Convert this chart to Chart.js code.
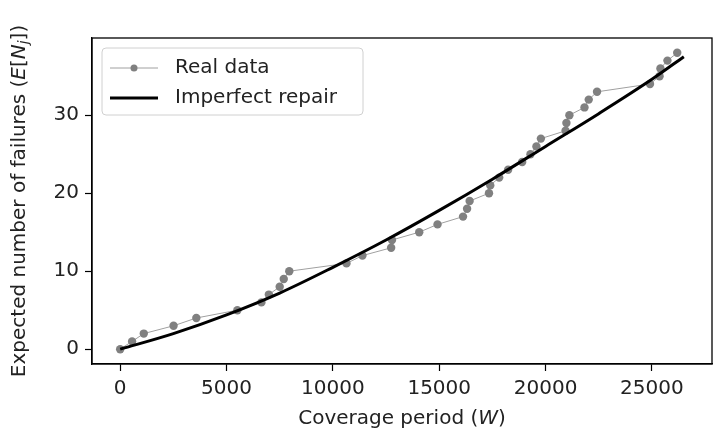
<!DOCTYPE html>
<html>
<head>
<meta charset="utf-8">
<script src="https://cdn.jsdelivr.net/npm/chart.js@4/dist/chart.umd.min.js"></script>
<style>
  html, body { margin: 0; padding: 0; background: #fff; }
  #wrap { width: 718px; height: 437px; }
</style>
</head>
<body>
<div id="wrap"><canvas id="myChart" width="718" height="437"></canvas></div>
<script>
// cumulative failures
const realW = [0, 560, 1110, 2510, 3580, 5510, 6640, 6990, 7500, 7690, 7950, 10640, 11390,
    12740, 12780, 14060, 14920, 16120, 16310, 16430, 17340, 17400, 17820, 18240, 18900,
    19290, 19570, 19780, 20940, 20980, 21120, 21830, 22030, 22420, 24910, 25360, 25400,
    25730, 26190];
const realN = [0, 1, 2, 3, 4, 5, 6, 7, 8, 9, 10, 11, 12, 13, 14, 15, 16, 17, 18, 19, 20,
    21, 22, 23, 24, 25, 26, 27, 28, 29, 30, 31, 32, 33, 34, 35, 36, 37, 38];

// fitted imperfect repair curve
const fitW = [0, 2500, 5000, 7500, 10000, 12500, 15000, 17500, 20000, 22500, 25000, 26500];
const fitN = [0, 2.0, 4.4, 7.2, 10.5, 14.0, 17.8, 21.8, 26.0, 30.2, 34.6, 37.5];

const xTicks = [0, 5000, 10000, 15000, 20000, 25000];
const yTicks = [0, 10, 20, 30];

Chart.defaults.font.family = "'DejaVu Sans', sans-serif";
Chart.defaults.color = '#222';

const FONT = 20;

// matplotlib style full box round the plot area
const framePlugin = {
    id: 'frame',
    afterDatasetsDraw(chart) {
        const a = chart.chartArea;
        const ctx = chart.ctx;
        ctx.save();
        ctx.strokeStyle = '#000';
        ctx.lineWidth = 1.3;
        ctx.strokeRect(a.left, a.top, a.right - a.left, a.bottom - a.top);
        ctx.restore();
    }
};

// draw a run of text pieces, some italic / subscript
function drawPieces(ctx, pieces, x, y) {
    let total = 0;
    pieces.forEach(p => {
        ctx.font = (p.italic ? 'italic ' : '') + (p.size || FONT) + "px 'DejaVu Sans'";
        p.w = ctx.measureText(p.t).width;
        total += p.w;
    });
    let cx = x - total / 2;
    pieces.forEach(p => {
        ctx.font = (p.italic ? 'italic ' : '') + (p.size || FONT) + "px 'DejaVu Sans'";
        ctx.fillText(p.t, cx, y + (p.dy || 0));
        cx += p.w;
    });
}

const titlesPlugin = {
    id: 'titles',
    afterDraw(chart) {
        const a = chart.chartArea;
        const ctx = chart.ctx;
        ctx.save();
        ctx.fillStyle = '#222';
        ctx.textBaseline = 'middle';
        ctx.textAlign = 'left';
        drawPieces(ctx, [
            { t: 'Coverage period (' },
            { t: 'W', italic: true },
            { t: ')' }
        ], (a.left + a.right) / 2, 419);

        ctx.translate(20, (a.top + a.bottom) / 2);
        ctx.rotate(-Math.PI / 2);
        drawPieces(ctx, [
            { t: 'Expected number of failures (' },
            { t: 'E', italic: true },
            { t: '[' },
            { t: 'N', italic: true },
            { t: 'j', italic: true, size: 14, dy: 4 },
            { t: '])' }
        ], 0, 0);
        ctx.restore();
    }
};

const legendPlugin = {
    id: 'boxLegend',
    afterDraw(chart) {
        const a = chart.chartArea;
        const ctx = chart.ctx;
        const x0 = a.left + 10, y0 = a.top + 10, w = 261, h = 67, r = 4;
        ctx.save();
        ctx.beginPath();
        ctx.roundRect(x0, y0, w, h, r);
        ctx.fillStyle = 'rgba(255,255,255,0.85)';
        ctx.fill();
        ctx.strokeStyle = '#d0d0d0';
        ctx.lineWidth = 1;
        ctx.stroke();

        const ds = chart.data.datasets;
        const rows = [y0 + 20, y0 + 50];
        ds.forEach((d, i) => {
            const yy = rows[i];
            ctx.beginPath();
            ctx.moveTo(x0 + 8, yy);
            ctx.lineTo(x0 + 56, yy);
            ctx.strokeStyle = d.borderColor;
            ctx.lineWidth = d.borderWidth;
            ctx.stroke();
            if (d.pointRadius > 0) {
                ctx.beginPath();
                ctx.arc(x0 + 32, yy, 3.5, 0, Math.PI * 2);
                ctx.fillStyle = d.pointBackgroundColor;
                ctx.fill();
            }
            ctx.fillStyle = '#222';
            ctx.font = FONT + "px 'DejaVu Sans'";
            ctx.textBaseline = 'middle';
            ctx.textAlign = 'left';
            ctx.fillText(d.label, x0 + 73, yy);
        });
        ctx.restore();
    }
};

const ctx = document.getElementById('myChart').getContext('2d');
const myChart = new Chart(ctx, {
    type: 'scatter',
    data: {
        datasets: [{
            label: 'Real data',
            data: realW.map((w, i) => ({ x: w, y: realN[i] })),
            showLine: true,
            borderColor: '#a0a0a0',
            borderWidth: 1,
            pointRadius: 4.2,
            pointBackgroundColor: '#808080',
            pointBorderWidth: 0,
            pointHoverRadius: 4.2,
            order: 1
        }, {
            label: 'Imperfect repair',
            data: fitW.map((w, i) => ({ x: w, y: fitN[i] })),
            showLine: true,
            borderColor: '#000',
            borderWidth: 3,
            pointRadius: 0,
            pointBackgroundColor: '#000',
            cubicInterpolationMode: 'monotone',
            order: 0
        }]
    },
    options: {
        responsive: false,
        animation: false,
        devicePixelRatio: 1,
        layout: { padding: { left: 0, top: 38, right: 6, bottom: 0 } },
        plugins: {
            legend: { display: false },
            tooltip: { enabled: false }
        },
        scales: {
            x: {
                type: 'linear',
                min: -1325,
                max: 27825,
                afterBuildTicks: scale => { scale.ticks = xTicks.map(v => ({ value: v })); },
                afterFit: scale => { scale.height = 73; },
                grid: { drawOnChartArea: false, drawTicks: true, tickLength: 7, tickColor: '#000', tickWidth: 1.2 },
                border: { display: true, color: '#000', width: 1.3 },
                ticks: { font: { size: FONT }, padding: 6, maxRotation: 0, color: '#222',
                    callback: v => String(v) }
            },
            y: {
                type: 'linear',
                min: -1.9,
                max: 39.9,
                afterBuildTicks: scale => { scale.ticks = yTicks.map(v => ({ value: v })); },
                afterFit: scale => { scale.width = 92; },
                grid: { drawOnChartArea: false, drawTicks: true, tickLength: 7, tickColor: '#000', tickWidth: 1.2 },
                border: { display: true, color: '#000', width: 1.3 },
                ticks: { font: { size: FONT }, padding: 6, color: '#222',
                    callback: v => String(v) }
            }
        }
    },
    plugins: [framePlugin, titlesPlugin, legendPlugin]
});
</script>
</body>
</html>
